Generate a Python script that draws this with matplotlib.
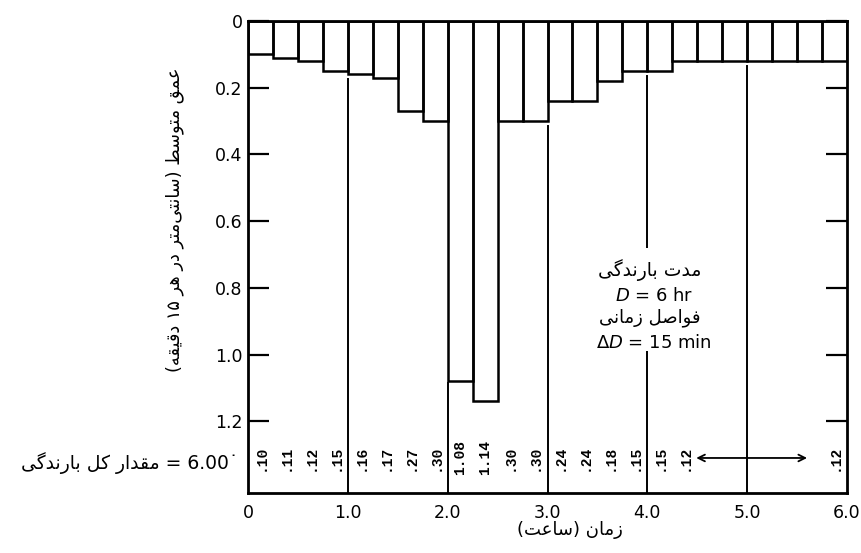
import re
import matplotlib
matplotlib.use("Agg")
import matplotlib.pyplot as plt
from matplotlib.patches import Rectangle

# ---------------- data ----------------
interval_hr = 0.25
depths = [0.10, 0.11, 0.12, 0.15, 0.16, 0.17, 0.27, 0.30,
          1.08, 1.14, 0.30, 0.30, 0.24, 0.24, 0.18, 0.15,
          0.15, 0.12, 0.12, 0.12, 0.12, 0.12, 0.12, 0.12]
depth_labels = [".10", ".11", ".12", ".15", ".16", ".17", ".27", ".30",
                "1.08", "1.14", ".30", ".30", ".24", ".24", ".18", ".15",
                ".15", ".12", "", "", "", "", "", ".12"]
x_ticks = [0, 1, 2, 3, 4, 5, 6]
x_tick_labels = ["0", "1.0", "2.0", "3.0", "4.0", "5.0", "6.0"]
y_ticks = [0, 0.2, 0.4, 0.6, 0.8, 1.0, 1.2]
y_tick_labels = ["0", "0.2", "0.4", "0.6", "0.8", "1.0", "1.2"]
repeat_span = [4.49, 5.60]          # hours covered by the "same value" arrow

y_label_fa = "عمق متوسط (سانتی\u200cمتر در هر ۱۵ دقیقه)"
x_label_fa = "زمان (ساعت)"
total_fa = "مقدار کل بارندگی"
total_value = "6.00\u02d9"
dur_fa = "مدت بارندگی"
step_fa = "فواصل زمانی"

# ---------------- Persian shaping (presentation forms, visual order) ----------------
FORMS = {
    "ا": ("\uFE8D", "\uFE8E", None, None),
    "ب": ("\uFE8F", "\uFE90", "\uFE91", "\uFE92"),
    "ت": ("\uFE95", "\uFE96", "\uFE97", "\uFE98"),
    "د": ("\uFEA9", "\uFEAA", None, None),
    "ر": ("\uFEAD", "\uFEAE", None, None),
    "ز": ("\uFEAF", "\uFEB0", None, None),
    "س": ("\uFEB1", "\uFEB2", "\uFEB3", "\uFEB4"),
    "ص": ("\uFEB9", "\uFEBA", "\uFEBB", "\uFEBC"),
    "ط": ("\uFEC1", "\uFEC2", "\uFEC3", "\uFEC4"),
    "ع": ("\uFEC9", "\uFECA", "\uFECB", "\uFECC"),
    "ف": ("\uFED1", "\uFED2", "\uFED3", "\uFED4"),
    "ق": ("\uFED5", "\uFED6", "\uFED7", "\uFED8"),
    "ل": ("\uFEDD", "\uFEDE", "\uFEDF", "\uFEE0"),
    "م": ("\uFEE1", "\uFEE2", "\uFEE3", "\uFEE4"),
    "ن": ("\uFEE5", "\uFEE6", "\uFEE7", "\uFEE8"),
    "ه": ("\uFEE9", "\uFEEA", "\uFEEB", "\uFEEC"),
    "و": ("\uFEED", "\uFEEE", None, None),
    "ک": ("\uFB8E", "\uFB8F", "\uFB90", "\uFB91"),
    "گ": ("\uFB92", "\uFB93", "\uFB94", "\uFB95"),
    "ی": ("\uFBFC", "\uFBFD", "\uFBFE", "\uFBFF"),
}


def fa(s):
    out = []
    for i, c in enumerate(s):
        if c not in FORMS:
            out.append(c)
            continue
        prev = s[i - 1] if i > 0 else ""
        nxt = s[i + 1] if i + 1 < len(s) else ""
        jp = prev in FORMS and FORMS[prev][2] is not None
        jn = FORMS[c][2] is not None and nxt in FORMS
        f = FORMS[c]
        if jp and jn:
            out.append(f[3])
        elif jp:
            out.append(f[1])
        elif jn:
            out.append(f[2])
        else:
            out.append(f[0])
    shaped = "".join(out).replace("\u200c", "")
    rev = shaped[::-1]
    rev = rev.translate(str.maketrans("()", ")("))
    rev = re.sub(r"[0-9\u06F0-\u06F9.]+", lambda m: m.group(0)[::-1], rev)
    return rev


plt.rcParams["font.family"] = ["DejaVu Sans"]

# ---------------- figure ----------------
W, H = 861, 553
fig = plt.figure(figsize=(W / 100, H / 100), dpi=100)
ax = fig.add_axes([248 / W, 1 - 493 / H, (847 - 248) / W, (493 - 21) / H])

lefts = [i * interval_hr for i in range(len(depths))]
ax.bar(lefts, depths, width=interval_hr, align="edge", fill=False,
       edgecolor="black", linewidth=1.8, zorder=3)

ax.set_xlim(0, 6.0)
ax.set_ylim(1.415, 0)

# vertical hour lines below the bars
for h in x_ticks[1:-1]:
    k = int(round(h / interval_hr))
    start = max(depths[k - 1], depths[k]) + (0.005 if h == 2 else 0.015)
    ax.plot([h, h], [start, 1.415], color="black", lw=1.4, zorder=2)

# white area behind the note
ax.add_patch(Rectangle((3.45, 0.68), 1.2, 0.31, facecolor="white",
                       edgecolor="none", zorder=4))
ax.text(4.02, 0.745, fa(dur_fa), ha="center", va="center", fontsize=13.5, zorder=5)
ax.text(4.07, 0.825, r"$D$ = 6 hr", ha="center", va="center", fontsize=13, zorder=5)
ax.text(4.02, 0.89, fa(step_fa), ha="center", va="center", fontsize=13, zorder=5)
ax.text(4.07, 0.965, r"$\Delta D$ = 15 min", ha="center", va="center", fontsize=13, zorder=5)

# per-interval value labels
for x0, lab in zip(lefts, depth_labels):
    if lab:
        ax.text(x0 + interval_hr / 2, 1.31, lab, rotation=90, ha="center",
                va="center", fontsize=10.5, family="Liberation Mono",
                weight="bold", zorder=5)

ax.annotate("", xy=(repeat_span[0], 1.31), xytext=(repeat_span[1], 1.31),
            arrowprops=dict(arrowstyle="<->", lw=1.3, color="black",
                            mutation_scale=12, shrinkA=0, shrinkB=0))

# axes styling
for sp in ax.spines.values():
    sp.set_linewidth(2.0)
ax.set_yticks(y_ticks)
ax.set_yticklabels(y_tick_labels)
ax.set_xticks(x_ticks)
ax.set_xticklabels(x_tick_labels)
ax.tick_params(axis="y", direction="in", length=15, width=1.6, left=True,
               right=True, labelsize=12.5, pad=4)
ax.tick_params(axis="x", length=0, labelsize=12.5, pad=8)

fig.text(175 / W, 1 - 220 / H, fa(y_label_fa), rotation=90, ha="center",
         va="center", fontsize=12.8)
fig.text(570 / W, 1 - 530 / H, fa(x_label_fa), ha="center", va="center",
         fontsize=13)
fig.text(238 / W, 1 - 463 / H, fa(total_fa) + " = " + total_value, ha="right",
         va="center", fontsize=13.5)

fig.savefig("out.png", dpi=100)
